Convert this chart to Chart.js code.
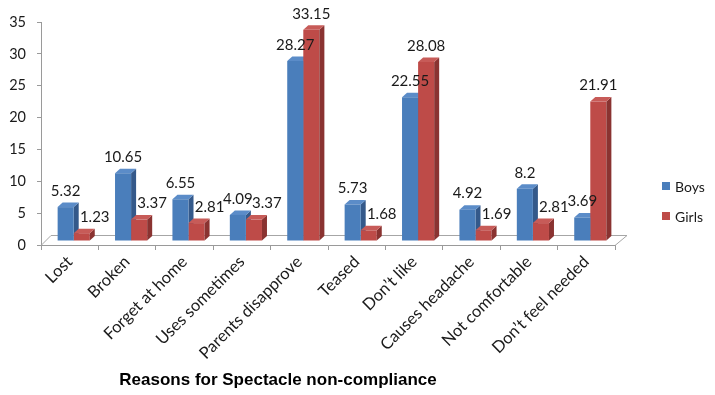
<!DOCTYPE html>
<html>
<head>
<meta charset="utf-8">
<script src="https://cdn.jsdelivr.net/npm/chart.js@4/dist/chart.umd.min.js"></script>
<style>
  html, body { margin: 0; padding: 0; background: #ffffff; }
  #wrap { width: 715px; height: 395px; position: relative; }
</style>
</head>
<body>
<div id="wrap"><canvas id="c" width="715" height="395"></canvas></div>
<script>
const categories = ["Lost", "Broken", "Forget at home", "Uses sometimes", "Parents disapprove", "Teased", "Don\u2019t like", "Causes headache", "Not comfortable", "Don\u2019t feel needed"];
const boys  = [5.32, 10.65, 6.55, 4.09, 28.27, 5.73, 22.55, 4.92, 8.2, 3.69];
const girls = [1.23, 3.37, 2.81, 3.37, 33.15, 1.68, 28.08, 1.69, 2.81, 21.91];
const seriesNames = ["Boys", "Girls"];
const axisTitle = "Reasons for Spectacle non-compliance";

const FONT = "Lato, 'DejaVu Sans', sans-serif";
const FRONT = ["#4A7EBB", "#BE4B48"];
const SIDE  = ["#34598A", "#8A3331"];
const TOP   = ["#5B8CC8", "#C75B58"];
const SHIFT = { x: 4, y: -4 };     // bars sit mid-depth on the 3D floor
const DEPTH = { x: 5, y: -4.5 };   // bar depth projection
const FLOOR = { x: 10, y: -10 };   // floor depth projection

function drawFaces(ctx, bar, i) {
  const l = bar.x - bar.width / 2, r = bar.x + bar.width / 2;
  const t = bar.y, b = bar.base;
  ctx.fillStyle = SIDE[i];
  ctx.beginPath();
  ctx.moveTo(r, t); ctx.lineTo(r + DEPTH.x, t + DEPTH.y);
  ctx.lineTo(r + DEPTH.x, b + DEPTH.y); ctx.lineTo(r, b);
  ctx.closePath(); ctx.fill();
  ctx.fillStyle = TOP[i];
  ctx.beginPath();
  ctx.moveTo(l, t); ctx.lineTo(r, t);
  ctx.lineTo(r + DEPTH.x, t + DEPTH.y); ctx.lineTo(l + DEPTH.x, t + DEPTH.y);
  ctx.closePath(); ctx.fill();
}

const threeD = {
  id: "threeD",
  beforeDatasetsDraw(chart) {
    const ctx = chart.ctx, x = chart.scales.x, y = chart.scales.y;
    const y0 = y.getPixelForValue(0);
    ctx.save();
    ctx.strokeStyle = "#A6A6A6"; ctx.lineWidth = 1;
    ctx.beginPath();
    ctx.moveTo(x.left, y0 + 0.5);
    ctx.lineTo(x.left + FLOOR.x, y0 + FLOOR.y + 0.5);
    ctx.lineTo(x.right + FLOOR.x + 2, y0 + FLOOR.y + 0.5);
    ctx.lineTo(x.right, y0 + 0.5);
    ctx.stroke();
    ctx.restore();
    ctx.save();
    ctx.translate(SHIFT.x, SHIFT.y);
    chart.getDatasetMeta(0).data.forEach(bar => drawFaces(ctx, bar, 0));
  },
  afterDatasetsDraw(chart) {
    const ctx = chart.ctx;
    chart.getDatasetMeta(1).data.forEach(bar => drawFaces(ctx, bar, 1));
    ctx.restore();
    ctx.save();
    ctx.font = "15px " + FONT;
    ctx.fillStyle = "#1a1a1a";
    ctx.textAlign = "center";
    ctx.textBaseline = "middle";
    [0, 1].forEach(di => {
      const meta = chart.getDatasetMeta(di);
      const vals = chart.data.datasets[di].data;
      meta.data.forEach((bar, k) => {
        let dx = 0;
        if (di === 1 && vals[k] < chart.data.datasets[0].data[k]) dx = 13;
        ctx.fillText(String(vals[k]), bar.x + SHIFT.x + dx, bar.y + SHIFT.y - 16);
      });
    });
    ctx.restore();
  },
  afterDraw(chart) {
    const ctx = chart.ctx, a = chart.chartArea;
    ctx.save();
    ctx.font = "14px " + FONT;
    ctx.textBaseline = "middle";
    ctx.textAlign = "left";
    chart.data.datasets.forEach((ds, i) => {
      const yy = 186 + i * 30;
      ctx.fillStyle = ds.backgroundColor;
      ctx.fillRect(a.right + 47, yy - 4, 8, 8);
      ctx.fillStyle = "#1a1a1a";
      ctx.fillText(ds.label, a.right + 60, yy + 1);
    });
    ctx.font = "bold 17px 'Liberation Sans', Arial, sans-serif";
    ctx.textAlign = "center";
    ctx.fillStyle = "#000";
    ctx.fillText(axisTitle, (a.left + a.right) / 2 - 50, 380);
    ctx.restore();
  }
};

new Chart(document.getElementById("c"), {
  type: "bar",
  data: {
    labels: categories,
    datasets: [
      { label: seriesNames[0], data: boys,  backgroundColor: FRONT[0], borderWidth: 0 },
      { label: seriesNames[1], data: girls, backgroundColor: FRONT[1], borderWidth: 0 }
    ]
  },
  options: {
    responsive: false,
    animation: false,
    devicePixelRatio: 1,
    layout: { padding: { top: 22, right: 100, left: 0, bottom: 0 } },
    datasets: { bar: { categoryPercentage: 0.56, barPercentage: 1.0 } },
    plugins: { legend: { display: false }, tooltip: { enabled: false } },
    scales: {
      x: {
        afterFit(s) { s.height = 150; },
        grid: { drawOnChartArea: false, tickLength: 5, color: "#9A9A9A" },
        border: { color: "#9A9A9A" },
        ticks: { minRotation: 45, maxRotation: 45, color: "#1a1a1a", font: { family: FONT, size: 16.5 }, padding: 2 }
      },
      y: {
        min: 0, max: 35,
        afterFit(s) { s.width = 41; },
        grid: { drawOnChartArea: false, tickLength: 4, color: "#9A9A9A" },
        border: { color: "#9A9A9A" },
        ticks: { stepSize: 5, color: "#1a1a1a", font: { family: FONT, size: 14.5 }, padding: 11 }
      }
    }
  },
  plugins: [threeD]
});
</script>
</body>
</html>
